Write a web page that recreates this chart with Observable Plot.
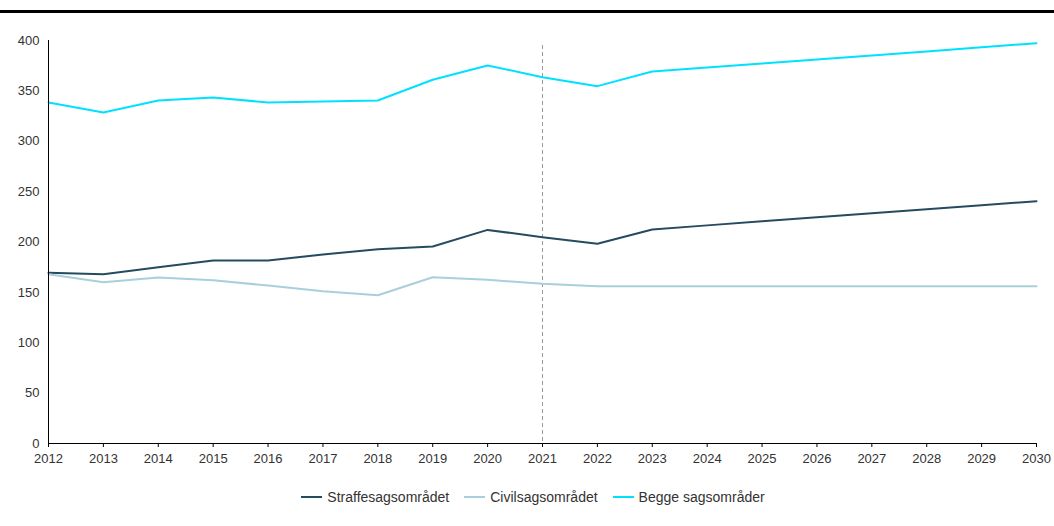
<!DOCTYPE html>
<html>
<head>
<meta charset="utf-8">
<script src="https://cdn.jsdelivr.net/npm/d3@7"></script>
<script src="https://cdn.jsdelivr.net/npm/@observablehq/plot@0.6"></script>
<style>
  html, body { margin: 0; padding: 0; background: #fff; overflow: hidden; }
  body { width: 1054px; font-family: "Liberation Sans", sans-serif; }
  .rule { margin-top: 10px; height: 3px; background: #000; width: 1054px; }
  .legend { display: flex; justify-content: center; gap: 15px; margin-top: 19px; font-size: 14px; color: #333; padding-left: 12px; }
  .legend span { display: inline-flex; align-items: center; }
  .legend i { display: inline-block; width: 21px; height: 2px; margin-right: 5px; }
  svg { overflow: visible; }
</style>
</head>
<body>
<div class="rule"></div>
<div id="chart"></div>
<div class="legend" id="legend"></div>
<script>
const years = [2012,2013,2014,2015,2016,2017,2018,2019,2020,2021,2022,2023,2024,2025,2026,2027,2028,2029,2030];
const seriesNames = ["Straffesagsområdet", "Civilsagsområdet", "Begge sagsområder"];
const seriesColors = ["#264a60", "#a9cfdc", "#00e1ff"];
const straffe = [169.4,168,175,181.6,181.6,187.6,192.9,195.5,212,204.8,198.2,212.4,216.5,220.5,224.5,228.5,232.5,236.5,240.5];
const civil = [168,160,164.8,162,156.8,151.2,147.2,165,162.5,158.5,156.1,156,156,156,156,156,156,156,156];
const begge = [338.5,328.5,340.4,343.4,338.5,339.5,340.4,361,375.2,363.6,354.7,369.2,373.2,377.2,381.2,385.2,389.2,393.2,397.3];
const yTicks = [0,50,100,150,200,250,300,350,400];
const forecastStart = 2021;

const values = [straffe, civil, begge];
const data = [];
values.forEach((arr, si) => arr.forEach((v, i) => data.push({year: years[i], value: v, series: seriesNames[si]})));

const plot = Plot.plot({
  width: 1054,
  height: 457,
  marginLeft: 48,
  marginRight: 18,
  marginTop: 27,
  marginBottom: 27,
  style: { fontFamily: "Liberation Sans, sans-serif", fontSize: "13px", color: "#333", overflow: "visible" },
  x: { domain: [2012, 2030], label: null },
  y: { domain: [0, 400], label: null },
  color: { domain: seriesNames, range: seriesColors },
  marks: [
    Plot.ruleX([forecastStart], { y1: 395, y2: 0, stroke: "#999", strokeDasharray: "4,3", strokeWidth: 1 }),
    Plot.line(data, { x: "year", y: "value", stroke: "series", strokeWidth: 2 }),
    Plot.axisX({ ticks: years, tickFormat: d => String(d), tickSize: 4, tickPadding: 6, stroke: "#000", fill: "#333", label: null }),
    Plot.axisY({ ticks: yTicks, tickSize: 0, tickPadding: 9, fill: "#333", label: null }),
    Plot.ruleY([0], { stroke: "#000", strokeWidth: 1 }),
    Plot.ruleX([2012], { stroke: "#000", strokeWidth: 1 })
  ]
});
document.getElementById("chart").appendChild(plot);

const legend = document.getElementById("legend");
seriesNames.forEach((name, i) => {
  const s = document.createElement("span");
  const sw = document.createElement("i");
  sw.style.background = seriesColors[i];
  s.appendChild(sw);
  s.appendChild(document.createTextNode(name));
  legend.appendChild(s);
});
</script>
</body>
</html>
